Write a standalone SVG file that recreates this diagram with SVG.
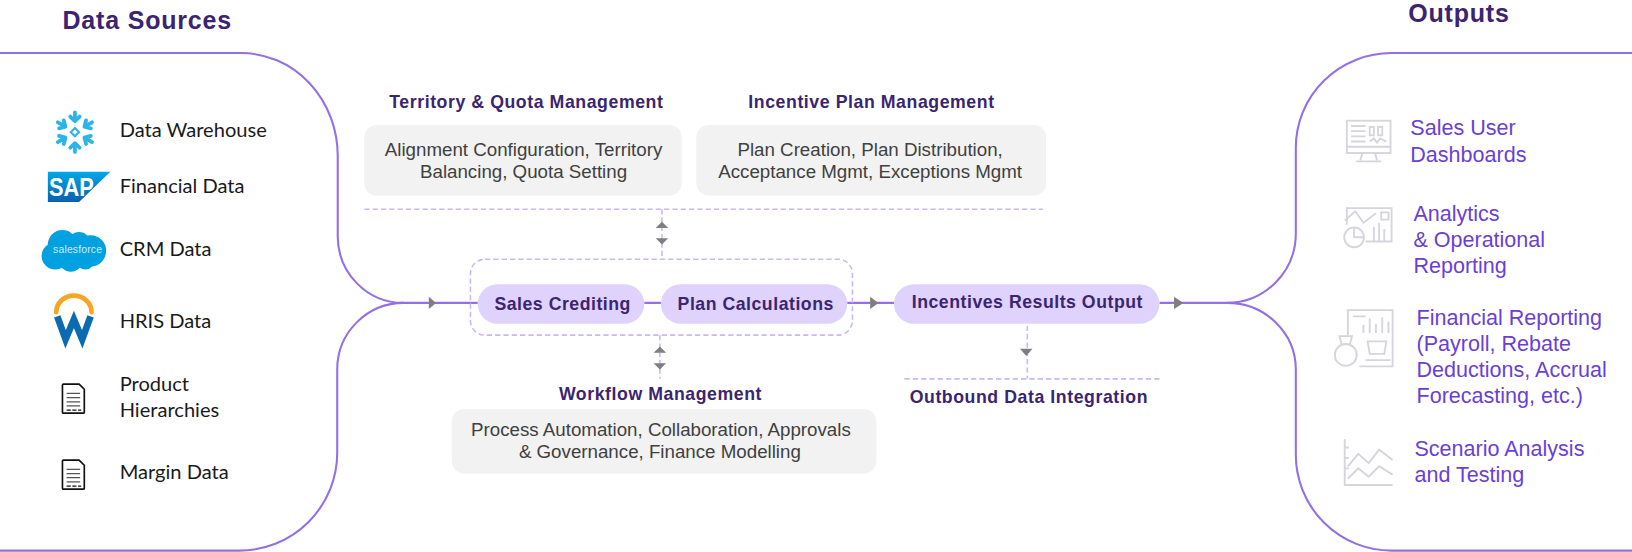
<svg xmlns="http://www.w3.org/2000/svg" width="1632" height="552" viewBox="0 0 1632 552">
<defs>
<style>
.fl{fill:none;stroke:#9370e8;stroke-width:2}
.ds{fill:none;stroke:#c9b8f5;stroke-width:1.5;stroke-dasharray:5 3}
.box{fill:#f2f2f2}
.pill{fill:#dfd2fd}
.ah{fill:#7f7f7f}
.h1{font:700 24px "Liberation Sans",Arial,sans-serif;fill:#3b2470;letter-spacing:.8px}
.h2{font:700 17px "Liberation Sans",Arial,sans-serif;fill:#3b2470;letter-spacing:.55px}
.pt{font:700 17px "Liberation Sans",Arial,sans-serif;fill:#3b2470;letter-spacing:.5px}
.bt{font:18px "Liberation Sans",Arial,sans-serif;fill:#404040;text-anchor:middle}
.src{font:19.3px Lato,"Open Sans",sans-serif;fill:#1a1a1a}
.out{font:20.7px "Liberation Sans",Arial,sans-serif;fill:#6a3fd6}
.ic{fill:none;stroke:#d6d5de;stroke-width:1.8;filter:url(#soft)}
.doc{fill:none;stroke:#111;stroke-width:1.6}
.dl{stroke:#555;stroke-width:1.2}
.dd{stroke:#111;stroke-width:1.3;stroke-dasharray:4 1.5}
</style>
<filter id="soft" x="-10%" y="-10%" width="120%" height="120%"><feGaussianBlur stdDeviation="0.5"/></filter>
<linearGradient id="sap" x1="0" y1="0" x2="0" y2="1"><stop offset="0" stop-color="#00a8e8"/><stop offset="1" stop-color="#0a5fb0"/></linearGradient>
<path id="arm" d="M0 -19V-11M-4.500 -15L0 -10.500L4.500 -15" fill="none" stroke="#29b5e8" stroke-width="3.600" stroke-linecap="round" stroke-linejoin="round"/>
</defs>
<g transform="scale(1.04082)">
<g id="connectors">
<path class="fl" d="M0 51H232A92.500 99 0 0 1 324.500 150V227A63 64 0 0 0 387.500 291H459"/>
<path class="fl" d="M0 529H230A94 94 0 0 0 324 435V355A64 64 0 0 1 388 291"/>
<path class="fl" d="M1568 51H1337A92 91 0 0 0 1245 142V224A66 67 0 0 1 1179 291H1114"/>
<path class="fl" d="M1568 529H1337A92 92 0 0 1 1245 437V355A66 64 0 0 0 1179 291"/>
<path class="fl" d="M619 291H635M814 291H859"/>
<path class="ds" d="M350 201H1002M636 201V249M634 322V364M987 313V364M869 364H1116"/>
<rect class="ds" x="452" y="249" width="367" height="73" rx="14"/>
<path class="ah" d="M412 285L419 291L412 297ZM836 285L844 291L836 297ZM1128 285L1137 291L1128 297ZM630 219L636 213L642 219ZM630 229H642L636 235ZM628 339L634 333L640 339ZM628 349H640L634 355ZM980 335H992L986 342Z"/>
</g>
<g id="title-sources"><text class="h1" x="60" y="28">Data Sources</text></g>
<g id="title-outputs"><text class="h1" x="1353" y="21">Outputs</text></g>
<g id="src-warehouse">
<g transform="translate(72 127)">
<use href="#arm"/><use href="#arm" transform="rotate(60)"/><use href="#arm" transform="rotate(120)"/><use href="#arm" transform="rotate(180)"/><use href="#arm" transform="rotate(240)"/><use href="#arm" transform="rotate(300)"/>
<path d="M0 -4L4 0L0 4L-4 0Z" fill="none" stroke="#29b5e8" stroke-width="2"/>
</g>
<text class="src" x="115" y="132">Data Warehouse</text>
</g>
<g id="src-financial">
<path d="M46 165H106L76 194H46Z" fill="url(#sap)"/>
<text x="47" y="188" font-family="Liberation Sans" font-weight="700" font-size="25" fill="#fff" textLength="43" lengthAdjust="spacingAndGlyphs">SAP</text>
<text class="src" x="115" y="185">Financial Data</text>
</g>
<g id="src-crm">
<g fill="#00a1e0"><circle cx="60" cy="235" r="14"/><circle cx="76" cy="234" r="11"/><circle cx="87" cy="241" r="15"/><circle cx="53" cy="246" r="13"/><circle cx="68" cy="249" r="12"/><circle cx="82" cy="250" r="9"/></g>
<text x="51" y="243" font-family="Liberation Sans" font-size="10" fill="#cdeefa" textLength="47">salesforce</text>
<text class="src" x="115" y="246">CRM Data</text>
</g>
<g id="src-hris">
<path d="M54 300A17 16 0 0 1 88 300" fill="none" stroke="#f6a623" stroke-width="4.500" stroke-linecap="round"/>
<path d="M55 304L63 326L71 307L79 326L87 304" fill="none" stroke="#0b6ab0" stroke-width="6.500"/>
<text class="src" x="115" y="315">HRIS Data</text>
</g>
<g id="src-product">
<path class="doc" d="M61 369H76L81 374V396Q81 397 80 397H61Q60 397 60 396V370Q60 369 61 369Z"/>
<path class="dl" d="M64 378H77M64 382H77M64 386H77M64 390H77"/>
<path class="dd" d="M64 394H78"/>
<text class="src" x="115" y="376">Product</text>
<text class="src" x="115" y="401">Hierarchies</text>
</g>
<g id="src-margin">
<path class="doc" d="M61 442H76L81 447V469Q81 470 80 470H61Q60 470 60 469V443Q60 442 61 442Z"/>
<path class="dl" d="M64 451H77M64 455H77M64 459H77M64 463H77"/>
<path class="dd" d="M64 467H78"/>
<text class="src" x="115" y="460">Margin Data</text>
</g>
<g id="territory">
<text class="h2" x="374" y="104">Territory &amp; Quota Management</text>
<rect class="box" x="350" y="120" width="305" height="68" rx="12"/>
<text class="bt" x="503" y="150">Alignment Configuration, Territory</text>
<text class="bt" x="503" y="171">Balancing, Quota Setting</text>
</g>
<g id="incentive-plan">
<text class="h2" x="719" y="104">Incentive Plan Management</text>
<rect class="box" x="669" y="120" width="336" height="68" rx="12"/>
<text class="bt" x="836" y="150">Plan Creation, Plan Distribution,</text>
<text class="bt" x="836" y="171">Acceptance Mgmt, Exceptions Mgmt</text>
</g>
<g id="sales-crediting"><rect class="pill" x="459" y="273" width="160" height="38" rx="19"/><text class="pt" x="475" y="298">Sales Crediting</text></g>
<g id="plan-calculations"><rect class="pill" x="635" y="273" width="179" height="38" rx="19"/><text class="pt" x="651" y="298">Plan Calculations</text></g>
<g id="incentive-results"><rect class="pill" x="859" y="273" width="255" height="38" rx="19"/><text class="pt" x="876" y="296">Incentives Results Output</text></g>
<g id="outbound"><text class="h2" x="874" y="387">Outbound Data Integration</text></g>
<g id="workflow">
<text class="h2" x="537" y="384">Workflow Management</text>
<rect class="box" x="434" y="393" width="408" height="62" rx="12"/>
<text class="bt" x="635" y="419">Process Automation, Collaboration, Approvals</text>
<text class="bt" x="634" y="440">&amp; Governance, Finance Modelling</text>
</g>
<g id="out-dashboards">
<g class="ic"><rect x="1294" y="116" width="42" height="31"/><path d="M1294 141H1336M1309 147L1307 154M1321 147L1323 154M1303 155H1327M1298 121H1312M1298 126H1312M1298 131H1312M1298 136H1312M1316 122H1320V130H1316ZM1324 122H1328V130H1324ZM1316 136L1320 133L1323 137L1326 133L1332 136"/></g>
<text class="out" x="1355" y="130">Sales User</text>
<text class="out" x="1355" y="156">Dashboards</text>
</g>
<g id="out-analytics">
<g class="ic"><path d="M1294 216V200H1337V232H1312M1292 212L1302 203L1310 214L1322 205M1320 232V218M1325 232V214M1330 232V220M1327 204H1334V211H1327Z"/><circle cx="1301" cy="228" r="9.500"/><path d="M1301 218V228H1311"/></g>
<text class="out" x="1358" y="212">Analytics</text>
<text class="out" x="1358" y="237">&amp; Operational</text>
<text class="out" x="1358" y="262">Reporting</text>
</g>
<g id="out-financial">
<g class="ic"><path d="M1295 322V298H1338V352H1306M1300 304H1312M1310 320V312M1316 320V306M1322 320V311M1328 320V305M1334 320V309M1314 328H1332L1330 340H1316ZM1312 346H1336"/><circle cx="1293" cy="341" r="10.500"/><path d="M1289 331L1287 323H1299L1297 331"/></g>
<text class="out" x="1361" y="312">Financial Reporting</text>
<text class="out" x="1361" y="337">(Payroll, Rebate</text>
<text class="out" x="1361" y="362">Deductions, Accrual</text>
<text class="out" x="1361" y="387">Forecasting, etc.)</text>
</g>
<g id="out-scenario">
<g class="ic"><path d="M1292 422V466H1338M1292 430H1296M1292 440H1296M1292 450H1296M1295 448L1305 436L1315 445L1325 432L1338 442M1295 460L1305 450L1315 458L1325 448L1338 456"/></g>
<text class="out" x="1359" y="438">Scenario Analysis</text>
<text class="out" x="1359" y="463">and Testing</text>
</g>
</g>
</svg>
